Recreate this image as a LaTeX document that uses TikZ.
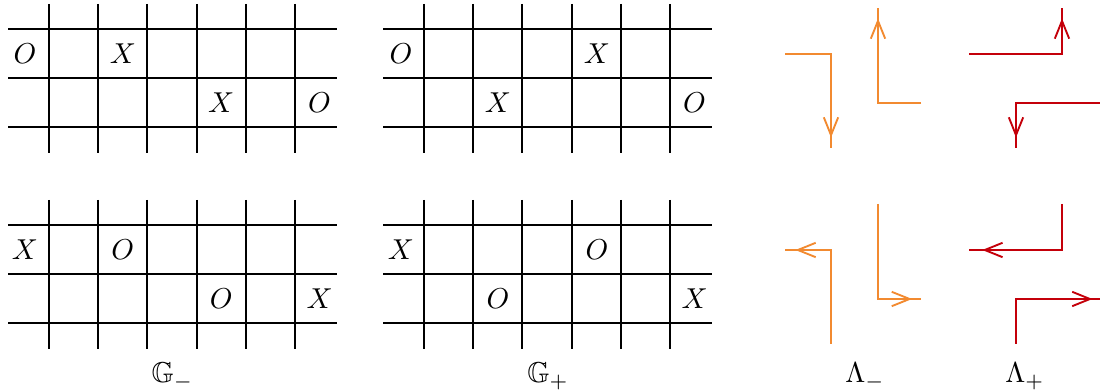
\documentclass[tikz,border=0pt]{standalone}
\usepackage{amssymb}
\usetikzlibrary{arrows.meta,decorations.markings}
\definecolor{lorange}{RGB}{242,138,48}
\definecolor{lred}{RGB}{196,0,10}
\tikzset{
  gridline/.style={line width=0.7pt,black},
  cellmark/.style={inner sep=0pt,font=\normalsize},
  lam/.style={line width=0.65pt,postaction={decorate},
    decoration={markings,mark=at position #1 with {\arrow{Straight Barb[length=6.2pt,width=5pt,line width=0.65pt]}}}},
  lam/.default=-3.6pt,
  orangepath/.style={lam=#1,draw=lorange},
  orangepath/.default=-3.6pt,
  redpath/.style={lam=#1,draw=lred},
  redpath/.default=-3.6pt,
  caption/.style={anchor=base,inner sep=0pt}
}
\newcommand\gridlines[2]{%
  \foreach \h in {0,1,2}{\draw[gridline] (#1+8,#2+29+49.2*\h) -- (#1+337,#2+29+49.2*\h);}
  \foreach \k in {0,...,5}{\draw[gridline] (#1+49+49.2*\k,#2+4) -- (#1+49+49.2*\k,#2+153);}
}
\begin{document}
\begin{tikzpicture}[x=0.3476pt,y=-0.3476pt]
\useasboundingbox (0,0) rectangle (1100,391);
% ---- grids
\gridlines{0}{0}
\gridlines{375}{0}
\gridlines{0}{196}
\gridlines{375}{196}
% top-left grid
\node[cellmark] (a1) at (25,53.6) {$O$};
\node[cellmark] (a2) at (122.8,53.6) {$X$};
\node[cellmark] (a3) at (221.2,102.8) {$X$};
\node[cellmark] (a4) at (319.6,102.8) {$O$};
% top-right grid
\node[cellmark] (b1) at (401,53.6) {$O$};
\node[cellmark] (b2) at (597,53.6) {$X$};
\node[cellmark] (b3) at (498,102.8) {$X$};
\node[cellmark] (b4) at (694.6,102.8) {$O$};
% bottom-left grid
\node[cellmark] (c1) at (25,249.6) {$X$};
\node[cellmark] (c2) at (122.8,249.6) {$O$};
\node[cellmark] (c3) at (221.2,298.8) {$O$};
\node[cellmark] (c4) at (319.6,298.8) {$X$};
% bottom-right grid
\node[cellmark] (d1) at (401,249.6) {$X$};
\node[cellmark] (d2) at (597,249.6) {$O$};
\node[cellmark] (d3) at (498,298.8) {$O$};
\node[cellmark] (d4) at (694.6,298.8) {$X$};
% captions
\node[caption] (gm) at (172.5,383) {$\mathbb{G}_-$};
\node[caption] (gp) at (548,383) {$\mathbb{G}_+$};
\node[caption] (lm) at (865,383) {$\Lambda_-$};
\node[caption] (lp) at (1025,383) {$\Lambda_+$};
% ---- Lambda paths
\coordinate (o1s) at (785,54);  \coordinate (o1c) at (831,54);  \coordinate (o1e) at (831,148);
\coordinate (o2s) at (921,103); \coordinate (o2c) at (878,103); \coordinate (o2e) at (878,8);
\coordinate (r1s) at (969,54);  \coordinate (r1c) at (1062,54); \coordinate (r1e) at (1062,8);
\coordinate (r2s) at (1100,103);\coordinate (r2c) at (1016,103);\coordinate (r2e) at (1016,148);
\coordinate (o3s) at (831,344); \coordinate (o3c) at (831,250); \coordinate (o3e) at (785,250);
\coordinate (o4s) at (878,204); \coordinate (o4c) at (878,299); \coordinate (o4e) at (921,299);
\coordinate (r3s) at (1062,204);\coordinate (r3c) at (1062,250);\coordinate (r3e) at (969,250);
\coordinate (r4s) at (1016,344);\coordinate (r4c) at (1016,299);\coordinate (r4e) at (1100,299);
\draw[orangepath] (o1s) -- (o1c) -- (o1e);
\draw[orangepath] (o2s) -- (o2c) -- (o2e);
\draw[redpath] (r1s) -- (r1c) -- (r1e);
\draw[redpath] (r2s) -- (r2c) -- (r2e);
\draw[orangepath] (o3s) -- (o3c) -- (o3e);
\draw[orangepath=-3.1pt] (o4s) -- (o4c) -- (o4e);
\draw[redpath=-4.6pt] (r3s) -- (r3c) -- (r3e);
\draw[redpath=-2.6pt] (r4s) -- (r4c) -- (r4e);
\end{tikzpicture}
\end{document}
